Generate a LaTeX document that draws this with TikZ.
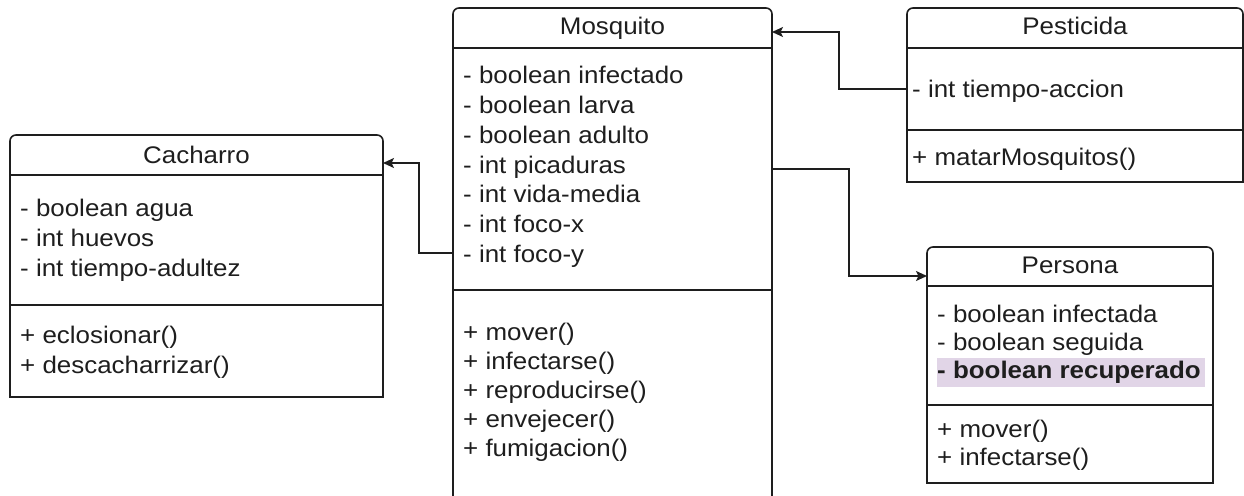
\documentclass[tikz,border=0pt]{standalone}
\usepackage{fontspec}
\setmainfont{Liberation Sans}[FakeStretch=1.08]
\usetikzlibrary{arrows.meta}
\definecolor{ink}{HTML}{1E1E1E}
\definecolor{hilite}{HTML}{E1D5E7}

% outline of a class box: rounded top, square bottom, two compartment rules
\newcommand\classframe[3]{%
  \draw[frame,rounded corners=6pt] (#1.south west) -- (#1.north west) -- (#1.north east)
    [sharp corners] -- (#1.south east) -- cycle;
  \draw[frame] (#1.west |- 0,#2) -- (#1.east |- 0,#2);
  \draw[frame] (#1.west |- 0,#3) -- (#1.east |- 0,#3);
}

\begin{document}
\begin{tikzpicture}[x=1pt,y=-1pt,
  frame/.style={draw=ink,line width=1.6pt},
  area/.style={inner sep=0pt,outer sep=0pt,anchor=north west},
  txt/.style={inner sep=0pt,anchor=base west,text=ink,font=\fontsize{24}{28.8}\selectfont},
  ttl/.style={inner sep=0pt,anchor=base,text=ink,font=\fontsize{24}{28.8}\selectfont},
  conn/.style={draw=ink,line width=1.6pt,-{Stealth[length=11pt,width=10pt,inset=2.5pt]}}]

\useasboundingbox (0,0) rectangle (1244,495);
\clip (0,0) rectangle (1244,495);

% class areas
\node[area,minimum width=319pt,minimum height=512pt] (mosq) at (453,8) {};
\node[area,minimum width=373pt,minimum height=262pt] (cach) at (10,135) {};
\node[area,minimum width=336pt,minimum height=174pt] (pest) at (907,8) {};
\node[area,minimum width=286pt,minimum height=236pt] (pers) at (927,247) {};

% Mosquito (open towards the bottom edge)
\draw[frame,rounded corners=6pt] (mosq.south west) -- (mosq.north west) -- (mosq.north east) -- (mosq.south east);
\draw[frame] (mosq.west |- 0,48) -- (mosq.east |- 0,48);
\draw[frame] (mosq.west |- 0,290) -- (mosq.east |- 0,290);
\node[ttl] (mosqT) at (612.5,35) {Mosquito};
\foreach \t [count=\i from 0] in {- boolean infectado,- boolean larva,- boolean adulto,- int picaduras,- int vida-media,- int foco-x,- int foco-y}
  \node[txt] (mosqA\i) at (463,{84+29.7*\i}) {\t};
\foreach \t [count=\i from 0] in {+ mover(),+ infectarse(),+ reproducirse(),+ envejecer(),+ fumigacion()}
  \node[txt] (mosqM\i) at (463,{340+29*\i}) {\t};

% Cacharro
\classframe{cach}{175}{305}
\node[ttl] (cachT) at (196.5,163) {Cacharro};
\foreach \t [count=\i from 0] in {- boolean agua,- int huevos,- int tiempo-adultez}
  \node[txt] (cachA\i) at (20,{216+30*\i}) {\t};
\foreach \t [count=\i from 0] in {+ eclosionar(),+ descacharrizar()}
  \node[txt] (cachM\i) at (20,{343+30*\i}) {\t};

% Pesticida
\classframe{pest}{48}{130}
\node[ttl] (pestT) at (1075,35) {Pesticida};
\node[txt] (pestA0) at (912,97) {- int tiempo-accion};
\node[txt] (pestM0) at (912,165) {+ matarMosquitos()};

% Persona
\classframe{pers}{286}{405}
\node[ttl] (persT) at (1070,273) {Persona};
\fill[hilite] (937,358) rectangle (1205,387);
\node[txt] (persA0) at (937,322) {- boolean infectada};
\node[txt] (persA1) at (937,350) {- boolean seguida};
\node[txt,font=\fontsize{24}{28.8}\selectfont\bfseries] (persA2) at (937,378) {- boolean recuperado};
\node[txt] (persM0) at (937,437) {+ mover()};
\node[txt] (persM1) at (937,465) {+ infectarse()};

% associations
\draw[conn] (mosq.west |- 0,253) -- (419,253) |- (cach.east |- 0,163);
\draw[conn] (pest.west |- 0,89) -- (839,89) |- (mosq.east |- 0,32);
\draw[conn] (mosq.east |- 0,169) -- (849,169) |- (pers.west |- 0,276);

\end{tikzpicture}
\end{document}
